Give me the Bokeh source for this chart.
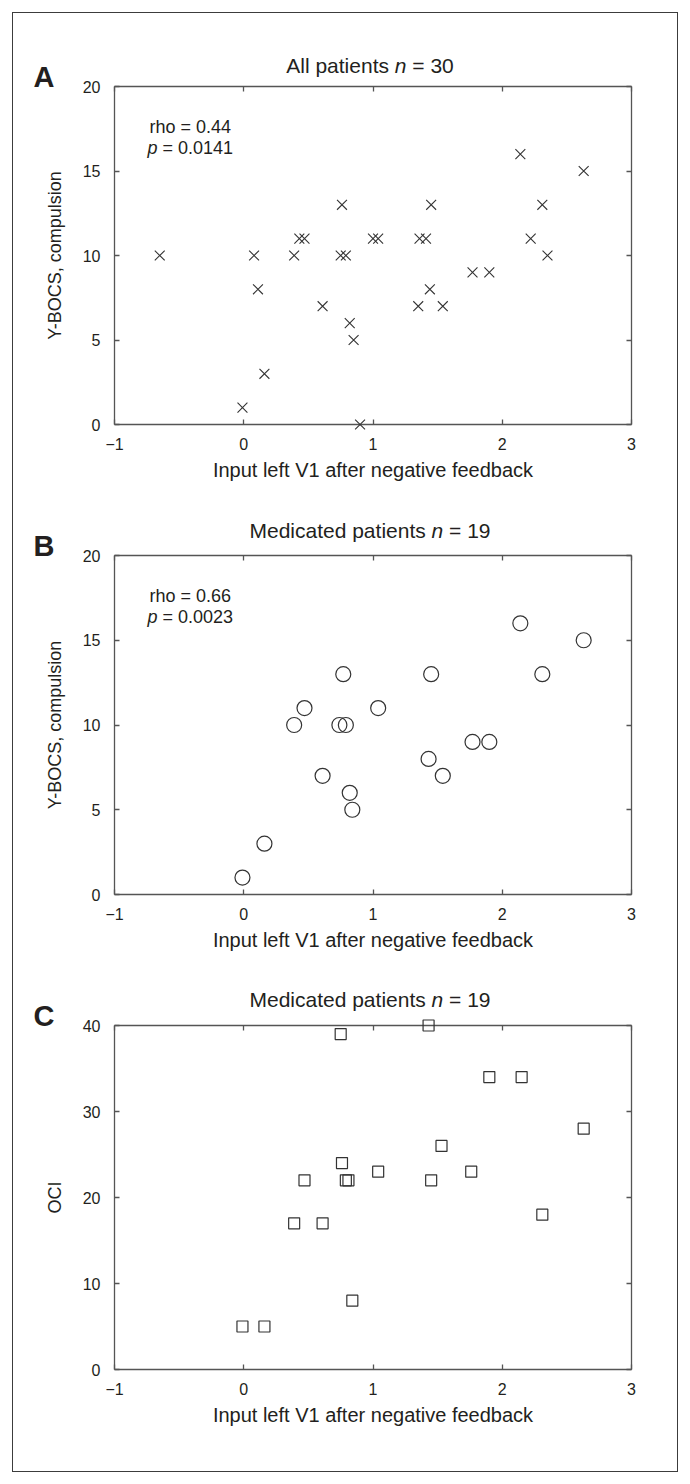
from bokeh.plotting import figure
from bokeh.layouts import column
from bokeh.models import LinearAxis, FixedTicker, Range1d
from bokeh.core.properties import value
from bokeh.embed import file_html
from bokeh.resources import INLINE

# ---------------- data ----------------
x_ticks = [-1, 0, 1, 2, 3]
x_tick_labels = ["\u22121", "0", "1", "2", "3"]
ybocs_ticks = [0, 5, 10, 15, 20]
oci_ticks = [0, 10, 20, 30, 40]

# Panel A: all patients (n = 30)
a_x = [-0.65, 0.08, 0.39, 0.43, 0.47, 0.11, 0.76, 0.75, 0.79, 0.61,
       0.82, 0.85, 0.16, -0.01, 0.90, 1.00, 1.04, 1.36, 1.41, 2.14,
       2.63, 1.45, 2.31, 2.22, 2.35, 1.77, 1.90, 1.44, 1.35, 1.54]
a_y = [10, 10, 10, 11, 11, 8, 13, 10, 10, 7,
       6, 5, 3, 1, 0, 11, 11, 11, 11, 16,
       15, 13, 13, 11, 10, 9, 9, 8, 7, 7]

# Panel B: medicated patients (n = 19), Y-BOCS compulsion
b_x = [-0.01, 0.16, 0.39, 0.47, 0.61, 0.74, 0.77, 0.79, 0.82, 0.84,
       1.04, 1.43, 1.45, 1.54, 1.77, 1.90, 2.14, 2.31, 2.63]
b_y = [1, 3, 10, 11, 7, 10, 13, 10, 6, 5,
       11, 8, 13, 7, 9, 9, 16, 13, 15]

# Panel C: medicated patients (n = 19), OCI
c_x = [-0.01, 0.16, 0.39, 0.47, 0.61, 0.75, 0.76, 0.79, 0.81, 0.84,
       1.04, 1.43, 1.45, 1.53, 1.76, 1.90, 2.15, 2.31, 2.63]
c_y = [5, 5, 17, 22, 17, 39, 24, 22, 22, 8,
       23, 40, 22, 26, 23, 34, 34, 18, 28]

x_label = "Input left V1 after negative feedback"

# ---------------- styling constants ----------------
FONT = "Liberation Sans"
TXT = "#231f20"
AX = "#555555"
MK = "#333333"
W = 664
LEFT, RIGHT = 101, 46
FRAME_W = W - LEFT - RIGHT

# Liberation Sans advance widths (em) for used glyphs
ADV = {" ": .278, "=": .584, "0": .556, "1": .556, "2": .556, "3": .556, "4": .556,
       "9": .556, ".": .278, "A": .667, "M": .833, "a": .556, "c": .5, "d": .556,
       "e": .556, "h": .556, "i": .222, "l": .222, "n": .556, "o": .556, "p": .556,
       "r": .333, "s": .5, "t": .278}


def tw(s, size):
    return sum(ADV.get(ch, .556) for ch in s) * size


def make_panel(height, top, frame_h, ymax, yticks, ylabel, xs, ys, marker, msize,
               title_head, title_tail, title_gap, letter, stats=None):
    bottom = height - top - frame_h
    p = figure(width=W, height=height, output_backend="svg", toolbar_location=None,
               x_range=Range1d(-1, 3), y_range=Range1d(0, ymax),
               min_border_left=LEFT, min_border_right=RIGHT,
               min_border_top=top, min_border_bottom=bottom,
               background_fill_color="white", border_fill_color="white",
               outline_line_color=None, tools="")
    p.grid.visible = False

    def xd(dx):  # px offset from frame left -> data x
        return -1 + dx * 4.0 / FRAME_W

    def yd(dy):  # px offset above frame bottom -> data y
        return dy * ymax / frame_h

    for ax in (p.xaxis[0], p.yaxis[0]):
        ax.axis_line_color = AX
        ax.axis_line_width = 1.3
        ax.major_tick_line_color = AX
        ax.major_tick_line_width = 1.3
        ax.major_tick_in = 5
        ax.major_tick_out = 0
        ax.minor_tick_line_color = None
        ax.major_label_text_font = FONT
        ax.major_label_text_font_size = "16px"
        ax.major_label_text_color = TXT
        ax.axis_label_text_font = FONT
        ax.axis_label_text_font_style = "normal"
        ax.axis_label_text_color = TXT

    p.xaxis.ticker = FixedTicker(ticks=x_ticks)
    p.xaxis.major_label_overrides = {t: l for t, l in zip(x_ticks, x_tick_labels)}
    p.xaxis.major_label_standoff = 13
    p.xaxis.axis_label = x_label
    p.xaxis.axis_label_text_font_size = "20px"
    p.xaxis.axis_label_standoff = 6

    p.yaxis.ticker = FixedTicker(ticks=yticks)
    p.yaxis.major_label_standoff = 14
    p.yaxis.axis_label = ylabel
    p.yaxis.axis_label_text_font_size = "18px"
    p.yaxis.axis_label_standoff = 15

    # mirrored ticks on top and right
    for loc, tk in (("above", x_ticks), ("right", yticks)):
        ax = LinearAxis(ticker=FixedTicker(ticks=tk), axis_line_color=AX,
                        axis_line_width=1.3, major_tick_line_color=AX,
                        major_tick_line_width=1.3, major_tick_in=5, major_tick_out=0,
                        minor_tick_line_color=None, major_label_text_font_size="0px",
                        major_label_text_color=None, major_label_standoff=0)
        p.add_layout(ax, loc)

    if marker == "x":
        p.scatter(xs, ys, marker="x", size=msize, line_color=MK, line_width=1.1,
                  level="overlay")
    else:
        p.scatter(xs, ys, marker=marker, size=msize, line_color=MK, line_width=1.2,
                  fill_color=None, level="overlay")

    def txt(dx, dy, s, size, style="normal"):
        p.text(x=[xd(dx)], y=[yd(dy)], text=[s], text_font=value(FONT),
               text_font_size=f"{size}px", text_font_style=style, text_color=TXT,
               text_baseline="alphabetic", text_align="left", level="overlay")

    # title with italic n
    ts = 21
    full = title_head + " n " + title_tail
    start = FRAME_W / 2.0 - 3 - tw(full, ts) / 2.0
    x_n = start + tw(title_head + " ", ts)
    x_t = x_n + tw("n ", ts)
    ty = frame_h + title_gap + 9
    txt(start, ty, title_head, ts)
    txt(x_n, ty, "n", ts, "italic")
    txt(x_t, ty, title_tail, ts)

    # panel letter
    txt(-81, frame_h + 10, letter, 29, "bold")

    if stats:
        rho_txt, p_txt = stats
        ss = 18
        txt(35, frame_h - 41, rho_txt, ss)
        txt(33, frame_h - 62.5, "p", ss, "italic")
        txt(33 + tw("p ", ss), frame_h - 62.5, p_txt, ss)
    return p


pa = make_panel(470, 73, 344, 20, ybocs_ticks, "Y-BOCS, compulsion", a_x, a_y, "x", 14,
                "All patients", "= 30", 12, "A", ("rho = 0.44", "= 0.0141"))
pb = make_panel(470, 72, 345, 20, ybocs_ticks, "Y-BOCS, compulsion", b_x, b_y, "circle", 15,
                "Medicated patients", "= 19", 16, "B", ("rho = 0.66", "= 0.0023"))
pc = make_panel(518, 72, 344, 40, oci_ticks, "OCI", c_x, c_y, "square", 11,
                "Medicated patients", "= 19", 17, "C")

layout = column(pa, pb, pc, margin=(12, 12, 12, 12),
                styles={"border": "1px solid #3c3c3c", "background-color": "white"})

open("out.html", "w").write(file_html(layout, INLINE))
